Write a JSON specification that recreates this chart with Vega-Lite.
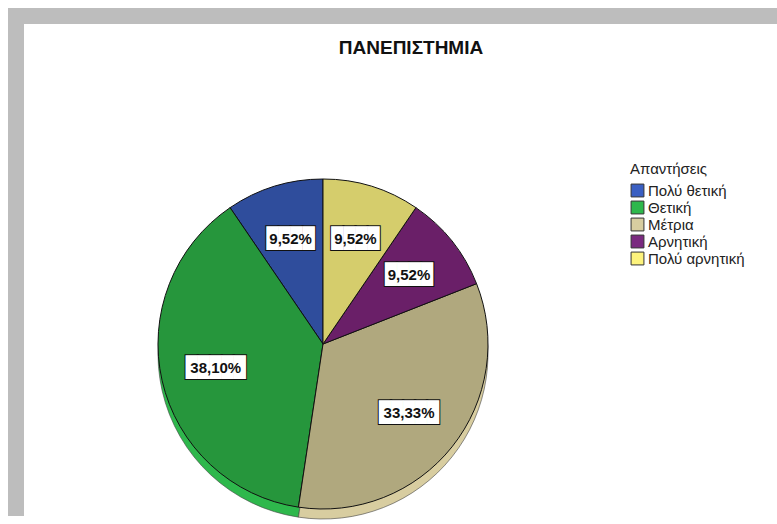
{
  "$schema": "https://vega.github.io/schema/vega-lite/v6.json",
  "padding": {"left": 8, "top": 8, "right": 0, "bottom": 0},
  "background": "white",
  "spacing": 0,
  "config": {"view": {"stroke": null}, "font": "Liberation Sans"},
  "hconcat": [
    {
      "data": {"values": []},
      "mark": "point",
      "width": 16,
      "height": 508,
      "view": {"fill": "#bdbdbd", "stroke": null}
    },
    {
      "spacing": 15,
      "vconcat": [
        {
          "data": {"values": []},
          "mark": "point",
          "width": 753,
          "height": 16,
          "view": {"fill": "#bdbdbd", "stroke": null}
        },
        {
          "width": 598,
          "height": 320,
          "title": {"text": "ΠΑΝΕΠΙΣΤΗΜΙΑ", "fontSize": 19, "fontWeight": "bold", "font": "Liberation Sans", "color": "#111111", "offset": 104, "dx": 88},
          "data": {
            "values": [
              {"answer": "Πολύ θετική", "k": 1, "pct": 9.52, "label": "9,52%"},
              {"answer": "Θετική", "k": 2, "pct": 38.10, "label": "38,10%"},
              {"answer": "Μέτρια", "k": 3, "pct": 33.33, "label": "33,33%"},
              {"answer": "Αρνητική", "k": 4, "pct": 9.52, "label": "9,52%"},
              {"answer": "Πολύ αρνητική", "k": 5, "pct": 9.52, "label": "9,52%"}
            ]
          },
          "encoding": {
            "theta": {"field": "pct", "type": "quantitative", "stack": true},
            "order": {"field": "k", "sort": "descending"}
          },
          "layer": [
            {
              "mark": {"type": "arc", "outerRadius": 165, "yOffset": 10, "stroke": "#444444", "strokeWidth": 0.6},
              "encoding": {
                "color": {
                  "field": "answer", "type": "nominal",
                  "scale": {"domain": ["Πολύ θετική", "Θετική", "Μέτρια", "Αρνητική", "Πολύ αρνητική"], "range": ["#3a5fc2", "#2eb84c", "#d8cda0", "#7a2a80", "#fdf37c"]},
                  "legend": {"title": "Απαντήσεις", "orient": "none", "legendX": 606, "legendY": -22, "titleFontWeight": "normal", "titleFontSize": 15, "labelFontSize": 15, "titleFont": "Liberation Sans", "labelFont": "Liberation Sans", "symbolType": "square", "symbolSize": 165, "symbolStrokeColor": "#333333", "symbolStrokeWidth": 1, "rowPadding": 0, "labelOffset": 3, "titlePadding": 6, "labelColor": "#222222", "titleColor": "#222222"}
                }
              }
            },
            {
              "mark": {"type": "arc", "outerRadius": 165, "stroke": "#111111", "strokeWidth": 1},
              "encoding": {
                "color": {
                  "field": "answer", "type": "nominal",
                  "scale": {"domain": ["Πολύ θετική", "Θετική", "Μέτρια", "Αρνητική", "Πολύ αρνητική"], "range": ["#2f4d9c", "#26963c", "#b0a87e", "#6a1f68", "#d5cd6c"]},
                  "legend": null
                }
              }
            },
            {
              "transform": [{"calculate": "pad('', length(datum.label) - 1, '█')", "as": "box"}],
              "mark": {"type": "text", "radius": 110, "font": "DejaVu Sans Mono", "fontSize": 20, "fill": "#111111", "stroke": "#111111", "strokeWidth": 2, "baseline": "middle", "align": "center"},
              "encoding": {"text": {"field": "box"}}
            },
            {
              "transform": [{"calculate": "pad('', length(datum.label) - 1, '█')", "as": "box"}],
              "mark": {"type": "text", "radius": 110, "font": "DejaVu Sans Mono", "fontSize": 20, "fill": "white", "baseline": "middle", "align": "center"},
              "encoding": {"text": {"field": "box"}}
            },
            {
              "mark": {"type": "text", "radius": 110, "font": "Liberation Sans", "fontWeight": "bold", "fontSize": 15, "fill": "#111111", "baseline": "middle", "align": "center"},
              "encoding": {"text": {"field": "label"}}
            }
          ],
          "resolve": {"scale": {"color": "independent"}}
        }
      ]
    }
  ]
}
